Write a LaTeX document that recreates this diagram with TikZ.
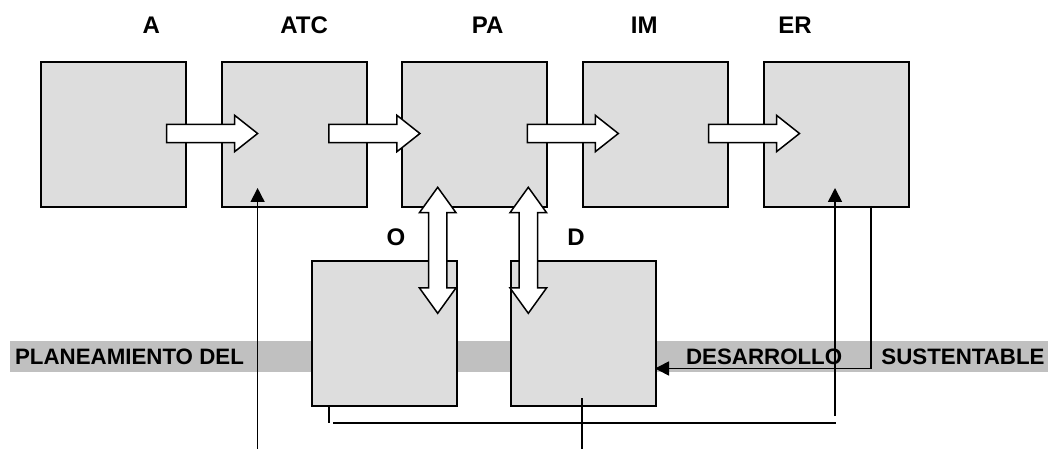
\documentclass[tikz,border=0pt]{standalone}
\usepackage{fontspec}
\setmainfont{Liberation Sans}
\usetikzlibrary{arrows.meta}
\definecolor{boxgray}{HTML}{DDDDDD}
\definecolor{bandgray}{HTML}{C0C0C0}
\newcommand{\hblk}[2]{%
  \draw[blk] (#1,#2-9.2) -- ++(68,0) -- ++(0,-9) -- (#1+91,#2) -- (#1+68,#2+18.2) -- ++(0,-9) -- (#1,#2+9.2) -- cycle;}
\newcommand{\vblk}[3]{%
  \draw[blk] (#1,#2) -- (#1+18.3,#2+25.4) -- (#1+9.2,#2+25.4) -- (#1+9.2,#3-25.4) -- (#1+18.3,#3-25.4) -- (#1,#3)
    -- (#1-18.3,#3-25.4) -- (#1-9.2,#3-25.4) -- (#1-9.2,#2+25.4) -- (#1-18.3,#2+25.4) -- cycle;}
\begin{document}
\begin{tikzpicture}[x=1pt,y=-1pt,
  boxnode/.style={draw=black, line width=1.6pt, fill=boxgray, minimum width=145pt, minimum height=145pt, inner sep=0pt, anchor=north west},
  lbl/.style={font=\bfseries\fontsize{24}{28}\selectfont, anchor=base, inner sep=0pt},
  bandtxt/.style={font=\bfseries\fontsize{22.3}{26}\selectfont, anchor=base west, inner sep=0pt},
  blk/.style={draw=black, line width=1.5pt, fill=white, line join=miter},
  thinline/.style={draw=black, line width=1.6pt},
  thinarr/.style={thinline, -{Triangle[length=14pt,width=14pt]}}]
\useasboundingbox (0,0) rectangle (1057,449);

% top row boxes
\node[boxnode] (A)   at (40,61) {};
\node[boxnode] (ATC) at (221,61) {};
\node[boxnode] (PA)  at (401,61) {};
\node[boxnode] (IM)  at (582,61) {};
\node[boxnode] (ER)  at (763,61) {};

% top labels
\node[lbl] (lA)   at (151.4,34) {A};
\node[lbl] (lATC) at (304.2,34) {ATC};
\node[lbl] (lPA)  at (487.7,34) {PA};
\node[lbl] (lIM)  at (644.3,34) {IM};
\node[lbl] (lER)  at (795,34) {ER};

% block arrows between top boxes
\hblk{166.6}{133.5}
\hblk{328.9}{133.5}
\hblk{527.3}{133.5}
\hblk{708.5}{133.5}

% band
\fill[bandgray] (10,341) rectangle (1047.5,372);
\node[bandtxt] (t1) at (14.9,364.3) {PLANEAMIENTO DEL};
\node[bandtxt] (t2) at (685.9,364.3) {DESARROLLO};
\node[bandtxt] (t3) at (881.2,364.3) {SUSTENTABLE};

% bottom boxes
\node[boxnode] (O) at (311,260) {};
\node[boxnode] (D) at (510,260) {};
\node[lbl] (lO) at (396,245) {O};
\node[lbl] (lD) at (576,245) {D};

% vertical double block arrows
\vblk{437.7}{187.3}{313.3}
\vblk{528.3}{187.3}{313.3}

% thin connectors
\coordinate (atcFrom) at (257.6,449);
\coordinate (atcTip)  at (257.6,188);
\draw[thinarr] (atcFrom) -- (atcTip);

\coordinate (oOut)  at (329,405);
\coordinate (oDown) at (329,423);
\coordinate (hL)    at (333,423);
\coordinate (hR)    at (836,423);
\coordinate (erFrom) at (835,416);
\coordinate (erTip)  at (835,188);
\draw[thinline] (oOut) -- (oDown);
\draw[thinline] (hL) -- (hR);
\draw[thinarr] (erFrom) -- (erTip);

\coordinate (erOut) at (871,206);
\coordinate (dIn)   at (655,368.5);
\draw[thinarr] (erOut) |- (dIn);

\coordinate (dOut) at (582,398);
\coordinate (dEnd) at (582,449);
\draw[thinline] (dOut) -- (dEnd);
\end{tikzpicture}
\end{document}
